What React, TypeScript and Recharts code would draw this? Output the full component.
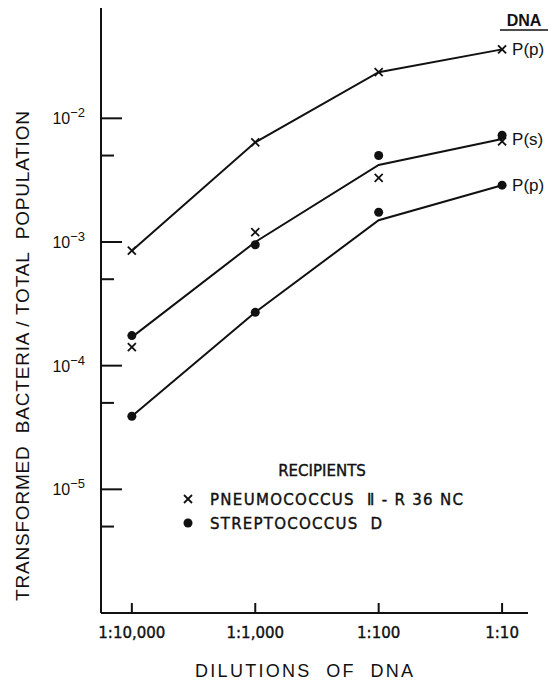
import {
  ComposedChart,
  Line,
  Scatter,
  XAxis,
  YAxis,
  LabelList,
} from 'recharts';

const dilutions = ['1:10,000', '1:1,000', '1:100', '1:10'];
const dilutionIndex = [0, 1, 2, 3];

// fitted curves (one per DNA source)
const upperLine = [8.5e-4, 6.4e-3, 0.0236, 0.0361];
const middleLine = [1.7e-4, 1.0e-3, 4.2e-3, 6.8e-3];
const lowerLine = [3.9e-5, 2.7e-4, 1.5e-3, 2.88e-3];
const lineNames = ['P(p)', 'P(s)', 'P(p)'];

// observed points by recipient
const pneumoUpper = [8.5e-4, 6.4e-3, 0.0236, 0.0361];
const pneumoMiddle = [1.41e-4, 1.2e-3, 3.3e-3, 6.5e-3];
const streptoMiddle = [1.75e-4, 9.5e-4, 5.0e-3, 7.3e-3];
const streptoLower = [3.9e-5, 2.7e-4, 1.74e-3, 2.88e-3];

const yTicks = [1e-2, 5e-3, 1e-3, 5e-4, 1e-4, 5e-5, 1e-5, 5e-6];
const yTickLabels: Record<string, string> = { '0.01': '-2', '0.001': '-3', '0.0001': '-4', '0.00001': '-5' };

const toPoints = (vals: number[]) => vals.map((y, i) => ({ x: dilutionIndex[i], y }));

const FONT = '"Liberation Sans", Arial, sans-serif';
const FONT2 = '"DejaVu Sans", sans-serif';
const INK = '#111';
const SP = '\u00A0\u00A0';

const YTick = (props: any) => {
  const { x, y, payload } = props;
  const exp = yTickLabels[String(payload.value)];
  const major = exp !== undefined;
  return (
    <g>
      <line x1={x} y1={y} x2={x + (major ? 21 : 13)} y2={y} stroke={INK} strokeWidth={2} />
      {major && (
        <text x={x - 16} y={y + 6} textAnchor="end" fontFamily={FONT} fontSize={16} fill={INK}>
          10
          <tspan dy={-7} fontSize={13}>{exp.replace('-', '\u2212')}</tspan>
        </text>
      )}
    </g>
  );
};

const XTick = (props: any) => {
  const { x, y, payload } = props;
  return (
    <g>
      <line x1={x} y1={y} x2={x} y2={y - 10} stroke={INK} strokeWidth={2} />
      <text
        x={x}
        y={y + 25}
        textAnchor="middle"
        fontFamily={FONT2}
        fontSize={15}
        fill={INK}
        stroke={INK}
        strokeWidth={0.4}
      >
        {dilutions[payload.value]}
      </text>
    </g>
  );
};

const Cross = (props: any) => {
  const { cx, cy } = props;
  const s = 4;
  return (
    <g stroke={INK} strokeWidth={1.8}>
      <line x1={cx - s} y1={cy - s} x2={cx + s} y2={cy + s} />
      <line x1={cx - s} y1={cy + s} x2={cx + s} y2={cy - s} />
    </g>
  );
};

const Dot = (props: any) => <circle cx={props.cx} cy={props.cy} r={4.5} fill={INK} />;

const endLabel = (name: string, count: number) => (props: any) => {
  const { x, y, index } = props;
  if (index !== count - 1) return null;
  return (
    <text x={x + 10} y={y + 6} fontFamily={FONT} fontSize={17} fill={INK}>
      {name}
    </text>
  );
};

export default function App() {
  const curves = [upperLine, middleLine, lowerLine];
  return (
    <div style={{ position: 'absolute', left: 0, top: 0, width: 553, height: 681, background: '#fff' }}>
      <ComposedChart width={553} height={681} margin={{ top: 8, right: 25, bottom: 0, left: 0 }}>
        <XAxis
          type="number"
          dataKey="x"
          domain={[-0.25, 3.21]}
          ticks={dilutionIndex}
          interval={0}
          tickSize={0}
          tickMargin={0}
          height={68}
          axisLine={{ stroke: INK, strokeWidth: 2 }}
          tick={<XTick />}
          allowDataOverflow
        />
        <YAxis
          type="number"
          dataKey="y"
          scale="log"
          domain={[1e-6, 0.078]}
          ticks={yTicks}
          interval={0}
          tickSize={0}
          tickMargin={0}
          width={101}
          axisLine={{ stroke: INK, strokeWidth: 2 }}
          tick={<YTick />}
          allowDataOverflow
        />
        {curves.map((vals, i) => (
          <Line
            key={i}
            data={toPoints(vals)}
            dataKey="y"
            type="linear"
            stroke={INK}
            strokeWidth={2}
            dot={false}
            activeDot={false}
            isAnimationActive={false}
          >
            <LabelList dataKey="y" content={endLabel(lineNames[i], vals.length)} />
          </Line>
        ))}
        <Scatter data={toPoints(pneumoUpper)} dataKey="y" shape={<Cross />} isAnimationActive={false} />
        <Scatter data={toPoints(pneumoMiddle)} dataKey="y" shape={<Cross />} isAnimationActive={false} />
        <Scatter data={toPoints(streptoMiddle)} dataKey="y" shape={<Dot />} isAnimationActive={false} />
        <Scatter data={toPoints(streptoLower)} dataKey="y" shape={<Dot />} isAnimationActive={false} />
      </ComposedChart>

      <svg width={553} height={681} style={{ position: 'absolute', left: 0, top: 0, pointerEvents: 'none' }}>
        <text
          transform="translate(29,356) rotate(-90)"
          textAnchor="middle"
          fontFamily={FONT}
          fontSize={19}
          fill={INK}
          textLength={490}
          lengthAdjust="spacing"
        >
          {`TRANSFORMED${SP}BACTERIA / TOTAL${SP}POPULATION`}
        </text>
        <text x={304} y={677} textAnchor="middle" fontFamily={FONT} fontSize={18} fill={INK} textLength={218} lengthAdjust="spacing">
          {`DILUTIONS${SP}OF${SP}DNA`}
        </text>
        <text x={524} y={26} textAnchor="middle" fontFamily={FONT} fontSize={16} fontWeight="bold" fill={INK}>
          DNA
        </text>
        <line x1={500} y1={30} x2={548} y2={30} stroke={INK} strokeWidth={1.5} />

        <g fontFamily={FONT2} fontSize={15} fill={INK} stroke={INK} strokeWidth={0.4}>
          <text x={322} y={476} textAnchor="middle">
            RECIPIENTS
          </text>
          <text x={210} y={505} textLength={253} lengthAdjust="spacing">
            {`PNEUMOCOCCUS${SP}Ⅱ - R 36 NC`}
          </text>
          <text x={210} y={529} textLength={172} lengthAdjust="spacing">
            {`STREPTOCOCCUS${SP}D`}
          </text>
        </g>
        <Cross cx={188} cy={499} />
        <Dot cx={188} cy={523} />
      </svg>
    </div>
  );
}
